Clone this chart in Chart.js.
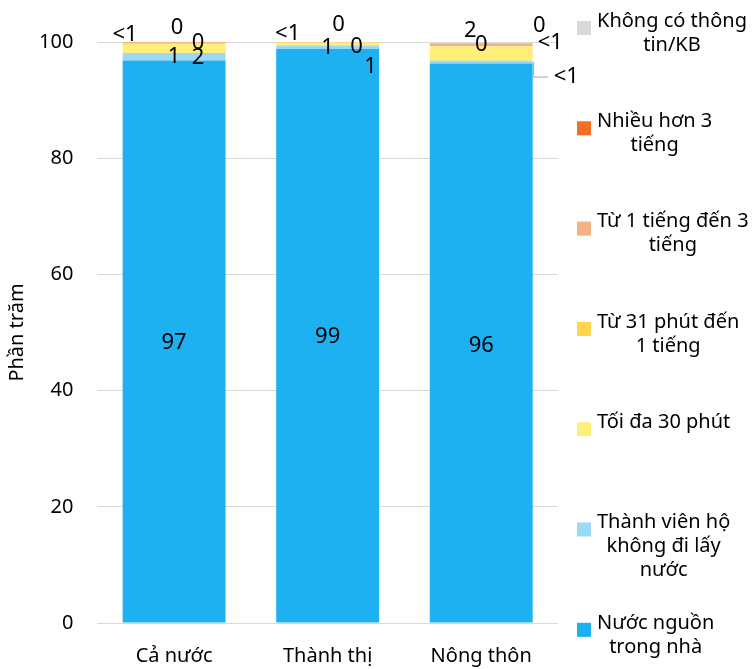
<!DOCTYPE html>
<html>
<head>
<meta charset="utf-8">
<script src="https://cdn.jsdelivr.net/npm/chart.js@4.4.1/dist/chart.umd.min.js"></script>
<style>
  body { margin: 0; background: #fff; }
  #wrap { width: 755px; height: 669px; position: relative; }
</style>
</head>
<body>
<div id="wrap"><canvas id="chart-canvas"></canvas></div>
<script>
// categories and percentage shares per destination of water fetching time
const categories = ['Cả nước', 'Thành thị', 'Nông thôn']
const nuocTrongNha = [96.8, 98.8, 96.3]
const khongDiLay = [1.3, 0.6, 0.49]
const toiDa30Phut = [1.6, 0.5, 2.49]
const tu31PhutDen1Tieng = [0, 0, 0]
const tu1Den3Tieng = [0.3, 0.1, 0.49]
const hon3Tieng = [0, 0, 0]
const khongThongTin = [0, 0, 0]
const yTicks = [0, 20, 40, 60, 80, 100]

const FONT = '"Noto Sans", sans-serif'

// label nudges in px from the centre of each segment (null = no label)
const labelNudge = [
  [[0, 1], [0, 1], [0, 3]],
  [[0, 0], [0, 1], [85, 15]],
  [[24, 9], [43, 23], [-11, -23]],
  [[24, -1], [29, 4], [0, -1]],
  [[-49, -8], [-40, -9], [69, -2]],
  [[3, -14], [11, -17], [58, -18]],
  null
]
// segments whose label sits away from the bar with a leader line
const leaders = [[1, 2]]

function fmt(v) {
  if (v === 0) return '0'
  if (v < 0.5) return '<1'
  return String(Math.round(v))
}

const series = [
  { label: ['Nước nguồn', 'trong nhà'], data: nuocTrongNha, color: '#1DB1F2' },
  { label: ['Thành viên hộ', 'không đi lấy', 'nước'], data: khongDiLay, color: '#9BDAF7' },
  { label: ['Tối đa 30 phút'], data: toiDa30Phut, color: '#FFEE78' },
  { label: ['Từ 31 phút đến', '1 tiếng'], data: tu31PhutDen1Tieng, color: '#FFD54C' },
  { label: ['Từ 1 tiếng đến 3', 'tiếng'], data: tu1Den3Tieng, color: '#F4B183' },
  { label: ['Nhiều hơn 3', 'tiếng'], data: hon3Tieng, color: '#F36F23' },
  { label: ['Không có thông', 'tin/KB'], data: khongThongTin, color: '#D9D9D9' }
]

const barLabels = {
  id: 'barLabels',
  afterDatasetsDraw(chart) {
    const ctx = chart.ctx
    ctx.save()
    ctx.font = '22px ' + FONT
    ctx.fillStyle = '#000'
    ctx.textAlign = 'center'
    ctx.textBaseline = 'middle'
    chart.data.datasets.forEach((ds, d) => {
      const nudge = labelNudge[d]
      if (!nudge) return
      const meta = chart.getDatasetMeta(d)
      meta.data.forEach((el, i) => {
        const cy = (el.y + el.base) / 2
        const x = el.x + nudge[i][0]
        const y = cy + nudge[i][1]
        const isLeader = leaders.some(l => l[0] === d && l[1] === i)
        if (isLeader) {
          const ex = el.x + el.width / 2 + 1
          ctx.strokeStyle = '#A6A6A6'
          ctx.lineWidth = 1
          ctx.beginPath()
          ctx.moveTo(ex, cy)
          ctx.lineTo(ex, y)
          ctx.lineTo(x - 18, y)
          ctx.stroke()
        }
        ctx.fillText(fmt(ds.data[i]), x, y)
      })
    })
    ctx.restore()
  }
}

// legend on the right, top entry = last dataset
const sideLegend = {
  id: 'sideLegend',
  afterDraw(chart) {
    const ctx = chart.ctx
    ctx.save()
    ctx.font = '20px ' + FONT
    ctx.textBaseline = 'middle'
    ctx.textAlign = 'center'
    const items = chart.data.datasets.slice().reverse()
    items.forEach((ds, k) => {
      const sy = 28 + k * 100.3
      ctx.fillStyle = ds.backgroundColor
      ctx.fillRect(577, sy - 7, 14, 14)
      ctx.fillStyle = '#000'
      const lines = ds.label
      const w = Math.max(...lines.map(t => ctx.measureText(t).width))
      const cx = 597 + w / 2
      lines.forEach((t, j) => {
        ctx.fillText(t, cx, sy - 7 + j * 24)
      })
    })
    ctx.restore()
  }
}

const ctx = document.querySelector('#chart-canvas')
new Chart(ctx, {
  type: 'bar',
  data: {
    labels: categories,
    datasets: series.map(s => ({
      label: s.label,
      data: s.data,
      backgroundColor: s.color,
      borderWidth: 0,
      categoryPercentage: 1,
      barPercentage: 0.67
    }))
  },
  options: {
    responsive: true,
    maintainAspectRatio: false,
    animation: false,
    layout: { padding: { top: 42, right: 197, bottom: 1, left: 5 } },
    plugins: {
      legend: { display: false },
      tooltip: { enabled: false }
    },
    scales: {
      x: {
        stacked: true,
        grid: { display: false, tickLength: 21 },
        border: { display: false },
        ticks: { color: '#000', font: { family: FONT, size: 20 }, padding: 0 }
      },
      y: {
        stacked: true,
        min: 0,
        max: 100,
        afterBuildTicks(axis) { axis.ticks = yTicks.map(v => ({ value: v })) },
        grid: {
          color: '#D9D9D9',
          tickColor: 'rgba(0,0,0,0)',
          tickLength: 24
        },
        border: { display: false },
        ticks: { color: '#000', font: { family: FONT, size: 20 }, padding: 0 },
        title: {
          display: true,
          text: 'Phần trăm',
          color: '#000',
          font: { family: FONT, size: 20 },
          padding: { top: 0, bottom: 10 }
        }
      }
    }
  },
  plugins: [barLabels, sideLegend]
})
</script>
</body>
</html>
